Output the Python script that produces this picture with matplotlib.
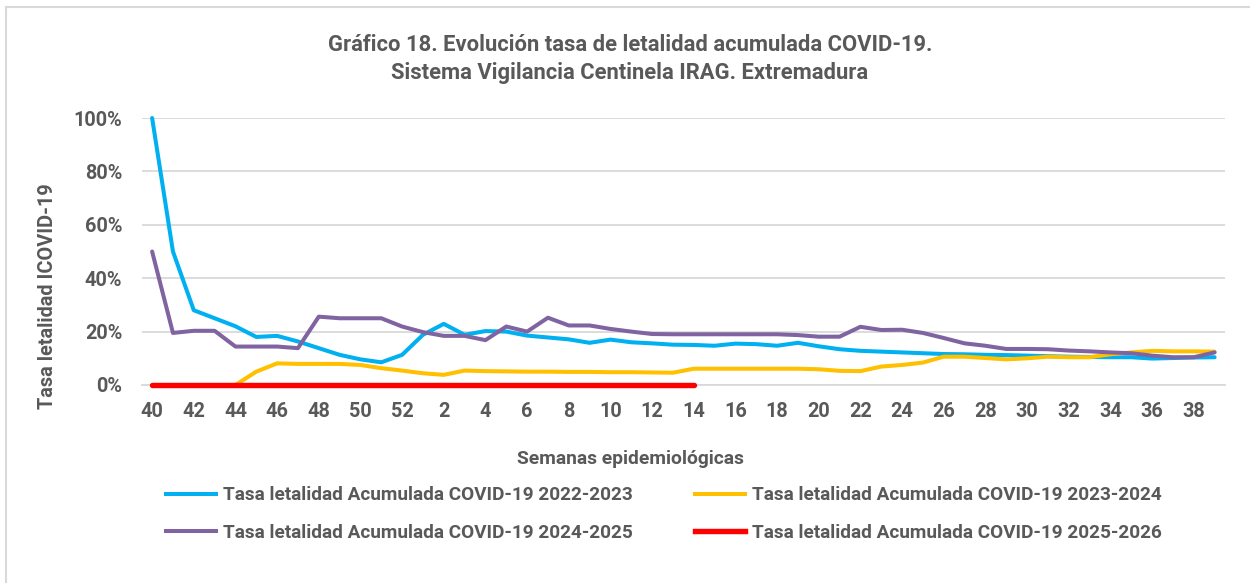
import matplotlib.pyplot as plt
from matplotlib.lines import Line2D
from matplotlib.ticker import PercentFormatter
import numpy as np

# semanas epidemiológicas 40..52 y 1..39
weeks = list(range(40, 53)) + list(range(1, 40))

tasa_2022_2023 = [100, 50, 28, 25, 22, 18, 18.4, 16.3, 13.8, 11.3, 9.6, 8.5, 11.3,
                  18.8, 22.9, 18.8, 20.2, 20, 18.5, 17.8, 17.1, 15.8, 17, 16, 15.6, 15.1,
                  15, 14.7, 15.5, 15.3, 14.7, 15.8, 14.5, 13.4, 12.8, 12.5, 12.2, 11.9,
                  11.6, 11.5, 11.3, 11.2, 11, 10.8, 10.6, 10.5, 10.4, 10.4, 9.9, 10.1,
                  10.3, 10.4]
tasa_2023_2024 = [0, 0, 0, 0, 0, 5, 8.1, 7.9, 7.9, 7.9, 7.5, 6.3, 5.4,
                  4.4, 3.8, 5.4, 5.2, 5.1, 5.0, 5.0, 4.9, 4.9, 4.8, 4.8, 4.7, 4.6,
                  6.1, 6.1, 6.1, 6.1, 6.1, 6.1, 5.9, 5.3, 5.2, 6.9, 7.5, 8.4,
                  10.6, 10.6, 10.1, 9.6, 10, 10.6, 10.4, 10.4, 11.5, 12.2, 12.8, 12.6,
                  12.6, 12.5]
tasa_2024_2025 = [50, 19.5, 20.3, 20.3, 14.4, 14.4, 14.4, 13.8, 25.6, 25, 25, 25, 21.9,
                  19.8, 18.4, 18.4, 16.8, 21.9, 20, 25.2, 22.3, 22.3, 21, 20, 19.1, 19,
                  19, 19, 19, 19, 19, 18.7, 18.1, 18.1, 21.8, 20.6, 20.7, 19.5,
                  17.6, 15.6, 14.7, 13.5, 13.5, 13.4, 12.9, 12.6, 12.2, 11.9, 11, 10.4,
                  10.4, 12.2]
# 2025-2026: datos hasta la semana 14
tasa_2025_2026 = [0] * 27

labels = ['Tasa letalidad Acumulada COVID-19 2022-2023',
          'Tasa letalidad Acumulada COVID-19 2023-2024',
          'Tasa letalidad Acumulada COVID-19 2024-2025',
          'Tasa letalidad Acumulada COVID-19 2025-2026']
colors = ['#00B0F0', '#FFC000', '#8064A2', '#FF0000']

GRAY = '#595959'
plt.rcParams['font.family'] = ['Roboto', 'DejaVu Sans']
plt.rcParams['font.weight'] = 'bold'

fig = plt.figure(figsize=(12.5, 5.83), dpi=100)
W, H = 1250, 583
ax = fig.add_axes([141.7 / W, 1 - 385 / H, (1225 - 141.7) / W, (385 - 118) / H])

x = np.arange(len(weeks))
series = [tasa_2022_2023, tasa_2023_2024, tasa_2024_2025, tasa_2025_2026]
widths = [2.9, 2.9, 2.9, 3.9]
for vals, c, lw, lab in zip(series, colors, widths, labels):
    ax.plot(x[:len(vals)], vals, color=c, lw=lw, solid_capstyle='round',
            solid_joinstyle='round', label=lab, zorder=3, clip_on=False)

ax.set_xlim(-0.5, len(weeks) - 0.5)
ax.set_ylim(0, 100)
ax.set_yticks(np.arange(0, 101, 20))
ax.yaxis.set_major_formatter(PercentFormatter(decimals=0))
ax.set_xticks(x[::2])
ax.set_xticklabels([str(w) for w in weeks[::2]])
ax.tick_params(length=0, labelsize=14.3, labelcolor=GRAY)
ax.tick_params(axis='x', pad=12)
ax.tick_params(axis='y', pad=14)
ax.grid(axis='y', color='#D9D9D9', lw=1.3, zorder=0)
for s in ['top', 'right', 'left']:
    ax.spines[s].set_visible(False)
ax.spines['bottom'].set_color('#D9D9D9')
ax.spines['bottom'].set_linewidth(1.3)

fig.text(630 / W, 1 - 59 / H, 'Gráfico 18. Evolución tasa de letalidad acumulada COVID-19.\n'
         'Sistema Vigilancia Centinela IRAG. Extremadura',
         ha='center', va='center', fontsize=15.8, color=GRAY, fontweight='bold',
         linespacing=1.38)
fig.text(48 / W, 1 - 296 / H, 'Tasa letalidad ICOVID-19', rotation=90,
         ha='center', va='center', fontsize=14.3, color=GRAY, fontweight='bold')
fig.text(630 / W, 1 - 459 / H, 'Semanas epidemiológicas',
         ha='center', va='center', fontsize=13.9, color=GRAY, fontweight='bold')

handles = [Line2D([], [], color=c, lw=lw) for c, lw in zip(colors, widths)]
order = [0, 2, 1, 3]
leg = fig.legend([handles[i] for i in order], [labels[i] for i in order],
                 ncol=2, loc='center', bbox_to_anchor=(664 / W, 1 - 514 / H),
                 frameon=False, fontsize=13.7, handlelength=2.63, handletextpad=0.37,
                 columnspacing=3.3, labelspacing=1.0)
for t in leg.get_texts():
    t.set_color(GRAY)

# marco del área del gráfico
fig.add_artist(Line2D([6 / W, 6 / W], [0, 1 - 7 / H], color='#D9D9D9', lw=1.5))
fig.add_artist(Line2D([6 / W, 1], [1 - 7 / H, 1 - 7 / H], color='#D9D9D9', lw=1.5))

fig.savefig('out.png', dpi=100)
